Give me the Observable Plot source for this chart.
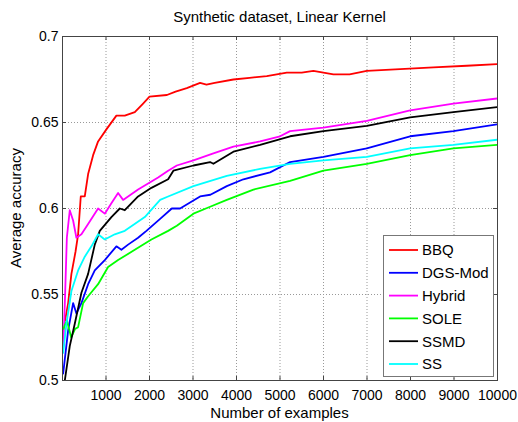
<!DOCTYPE html>
<html>
<head>
<meta charset="utf-8">
<script src="https://cdn.jsdelivr.net/npm/d3@7"></script>
<script src="https://cdn.jsdelivr.net/npm/@observablehq/plot@0.6"></script>
<style>
  html, body { margin: 0; padding: 0; background: #fff; }
  #chart { width: 518px; height: 422px; }
  svg { font-family: "Liberation Sans", Arial, sans-serif; }
</style>
</head>
<body>
<div id="chart"></div>
<script>
const titleText = "Synthetic dataset, Linear Kernel";
const xLabel = "Number of examples";
const yLabel = "Average accuracy";
const xTicks = [1000, 2000, 3000, 4000, 5000, 6000, 7000, 8000, 9000, 10000];
const yTicks = [0.5, 0.55, 0.6, 0.65, 0.7];

const seriesNames = ["BBQ", "DGS-Mod", "Hybrid", "SOLE", "SSMD", "SS"];
const seriesColors = ["#ff0000", "#0000ff", "#ff00ff", "#00ff00", "#000000", "#00ffff"];

const bbqX = [60, 130, 205, 300, 359, 420, 512, 589, 704, 818, 1009, 1239, 1432, 1662, 1853, 2000, 2400, 2600, 2857, 3163, 3310, 3500, 3929, 4300, 4696, 5156, 5500, 5768, 6228, 6600, 6995, 7761, 8527, 9294, 10000];
const bbqY = [0.535, 0.545, 0.562, 0.575, 0.585, 0.607, 0.607, 0.620, 0.631, 0.639, 0.646, 0.654, 0.654, 0.656, 0.661, 0.665, 0.666, 0.668, 0.670, 0.673, 0.672, 0.673, 0.675, 0.676, 0.677, 0.679, 0.679, 0.680, 0.678, 0.678, 0.680, 0.681, 0.682, 0.683, 0.684];

const dgsX = [15, 129, 244, 320, 435, 589, 742, 972, 1239, 1354, 1508, 1738, 1929, 2244, 2513, 2703, 3163, 3400, 3777, 4159, 4772, 5232, 5998, 6995, 7991, 8986, 10000];
const dgsY = [0.504, 0.529, 0.545, 0.539, 0.545, 0.556, 0.564, 0.570, 0.578, 0.576, 0.579, 0.583, 0.587, 0.594, 0.600, 0.600, 0.607, 0.608, 0.613, 0.617, 0.621, 0.627, 0.630, 0.635, 0.642, 0.645, 0.649];

const hybridX = [20, 60, 100, 167, 244, 320, 435, 589, 818, 972, 1124, 1278, 1393, 1738, 2198, 2428, 2628, 3010, 3469, 3929, 4543, 5002, 5232, 5998, 6995, 7991, 8986, 10000];
const hybridY = [0.52, 0.55, 0.583, 0.599, 0.593, 0.583, 0.585, 0.591, 0.600, 0.597, 0.603, 0.609, 0.605, 0.611, 0.618, 0.622, 0.625, 0.628, 0.632, 0.636, 0.639, 0.642, 0.645, 0.647, 0.651, 0.657, 0.661, 0.664];

const soleX = [20, 100, 200, 290, 359, 474, 589, 818, 1048, 1278, 1662, 2044, 2428, 2628, 3010, 3393, 3777, 4389, 5232, 5998, 6995, 7991, 8986, 10000];
const soleY = [0.53, 0.535, 0.525, 0.53, 0.531, 0.545, 0.549, 0.556, 0.566, 0.570, 0.576, 0.582, 0.587, 0.590, 0.597, 0.601, 0.605, 0.611, 0.616, 0.622, 0.626, 0.631, 0.635, 0.637];

const ssmdX = [53, 167, 282, 435, 589, 742, 857, 1124, 1317, 1432, 1738, 2044, 2428, 2549, 3010, 3393, 3469, 3929, 4543, 5232, 5998, 6995, 7991, 8986, 10000];
const ssmdY = [0.5, 0.520, 0.533, 0.551, 0.562, 0.579, 0.587, 0.595, 0.600, 0.599, 0.607, 0.612, 0.617, 0.622, 0.625, 0.627, 0.626, 0.633, 0.637, 0.642, 0.645, 0.648, 0.653, 0.656, 0.659];

const ssX = [15, 90, 205, 359, 512, 665, 818, 972, 1202, 1432, 1892, 2244, 2428, 3010, 3777, 4543, 5232, 5998, 6995, 7991, 8986, 10000];
const ssY = [0.516, 0.533, 0.552, 0.564, 0.572, 0.578, 0.585, 0.582, 0.585, 0.587, 0.595, 0.605, 0.607, 0.613, 0.619, 0.623, 0.626, 0.628, 0.630, 0.635, 0.637, 0.640];

const seriesX = [bbqX, dgsX, hybridX, soleX, ssmdX, ssX];
const seriesY = [bbqY, dgsY, hybridY, soleY, ssmdY, ssY];

const rows = [];
seriesNames.forEach((name, i) => {
  seriesX[i].forEach((x, j) => rows.push({name, x, y: seriesY[i][j]}));
});

const W = 518, H = 422;
const mL = 62, mR = 21, mT = 36, mB = 42;
const innerW = W - mL - mR, innerH = H - mT - mB;
const tickLen = 4;

const plot = Plot.plot({
  width: W,
  height: H,
  marginLeft: mL,
  marginRight: mR,
  marginTop: mT,
  marginBottom: mB,
  style: {fontFamily: '"Liberation Sans", Arial, sans-serif', background: "#fff"},
  x: {domain: [0, 10000]},
  y: {domain: [0.5, 0.7]},
  color: {domain: seriesNames, range: seriesColors},
  marks: [
    Plot.gridX(xTicks.slice(0, -1), {stroke: "#999", strokeOpacity: 1, strokeDasharray: "1,2", strokeWidth: 1}),
    Plot.gridY(yTicks.slice(1, -1), {stroke: "#999", strokeOpacity: 1, strokeDasharray: "1,2", strokeWidth: 1}),
    // inward ticks (MATLAB style)
    Plot.tickX(xTicks, {x: d => d, insetTop: innerH - tickLen, stroke: "#444"}),
    Plot.tickX(xTicks, {x: d => d, insetBottom: innerH - tickLen, stroke: "#444"}),
    Plot.tickY(yTicks, {y: d => d, insetRight: innerW - tickLen, stroke: "#444"}),
    Plot.tickY(yTicks, {y: d => d, insetLeft: innerW - tickLen, stroke: "#444"}),
    Plot.axisX(xTicks, {tickSize: 0, tickPadding: 10, fontSize: 14, tickFormat: d => String(d), label: null, fill: "#000"}),
    Plot.axisY(yTicks, {tickSize: 0, tickPadding: 4, fontSize: 14, tickFormat: d => String(d), label: null, fill: "#000"}),
    Plot.line(rows, {x: "x", y: "y", z: "name", stroke: "name", strokeWidth: 1.8, clip: true, curve: "linear"}),
    Plot.frame({stroke: "#444", strokeWidth: 1})
  ]
});

document.getElementById("chart").appendChild(plot);

const svg = d3.select(plot);
const font = '"Liberation Sans", Arial, sans-serif';

svg.append("text")
  .attr("x", (mL + W - mR) / 2).attr("y", 21.5)
  .attr("text-anchor", "middle")
  .attr("font-size", 15).attr("font-family", font).attr("fill", "#000")
  .text(titleText);

svg.append("text")
  .attr("x", (mL + W - mR) / 2).attr("y", 418)
  .attr("text-anchor", "middle")
  .attr("font-size", 15).attr("font-family", font).attr("fill", "#000")
  .text(xLabel);

svg.append("text")
  .attr("transform", `translate(21,${(mT + H - mB) / 2}) rotate(-90)`)
  .attr("text-anchor", "middle")
  .attr("font-size", 15).attr("font-family", font).attr("fill", "#000")
  .text(yLabel);

// Legend
const lg = svg.append("g").attr("text-anchor", "start");
const lx = 383.5, ly = 235.5, lw = 110, lh = 141;
lg.append("rect").attr("x", lx).attr("y", ly).attr("width", lw).attr("height", lh)
  .attr("fill", "#fff").attr("stroke", "#777").attr("stroke-width", 1);
seriesNames.forEach((name, i) => {
  const cy = 250 + i * 22.8;
  lg.append("line").attr("x1", 389).attr("x2", 418).attr("y1", cy).attr("y2", cy)
    .attr("stroke", seriesColors[i]).attr("stroke-width", 1.8);
  lg.append("text").attr("x", 422).attr("y", cy).attr("dy", "0.36em")
    .attr("text-anchor", "start")
    .attr("font-size", 15).attr("font-family", font).attr("fill", "#000")
    .text(name);
});
</script>
</body>
</html>
